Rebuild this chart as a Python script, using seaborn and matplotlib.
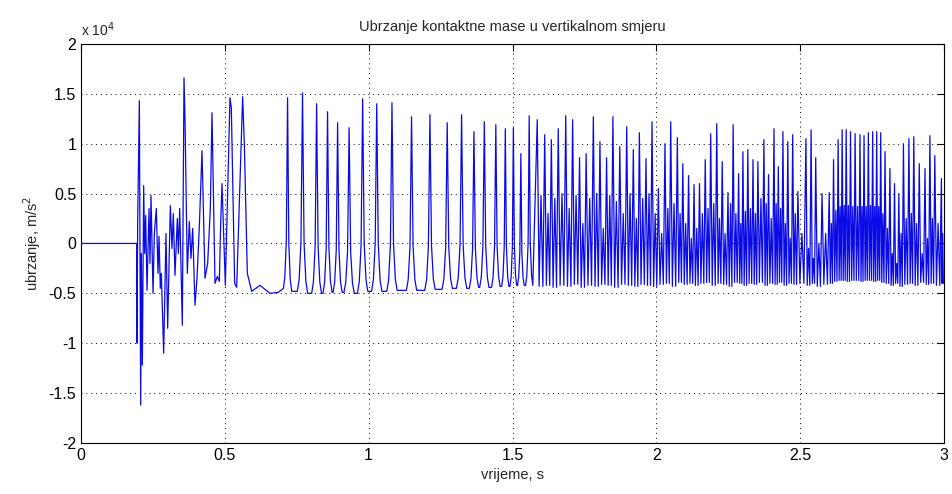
import matplotlib
matplotlib.use("Agg")
import matplotlib.pyplot as plt
import seaborn as sns
import numpy as np
import pandas as pd
from matplotlib.ticker import FuncFormatter

# values in units of 1e4 m/s^2, time in s

# start-up transient, read vertex by vertex
trans_t = [0.0, 0.050, 0.100, 0.150, 0.1936, 0.1946, 0.1970, 0.2028, 0.2051, 0.2074,
           0.2097, 0.2132, 0.2178, 0.2213, 0.2248, 0.2294, 0.2364, 0.2398, 0.2433, 0.2503,
           0.2549, 0.2618, 0.2676, 0.2711, 0.2757, 0.2792, 0.2873, 0.2954, 0.3012, 0.3105,
           0.3163, 0.3209, 0.3267, 0.3348, 0.3383, 0.3430, 0.3522, 0.3580, 0.3615, 0.3696,
           0.3765, 0.3823, 0.3882, 0.3962, 0.4032, 0.4113, 0.4206, 0.4310, 0.4403, 0.4495,
           0.4553, 0.4658, 0.4739, 0.4808, 0.4855, 0.4901, 0.5017, 0.5179, 0.5225, 0.5341,
           0.5411, 0.5619, 0.5677, 0.5782, 0.5932, 0.6222, 0.6569, 0.6859]
trans_v = [0.0, 0.0, 0.0, 0.0, 0.0, -1.0, 0.22, 1.43, -0.1, -1.62,
           -0.1, -1.22, 0.58, -0.1, 0.28, -0.47, 0.35, -0.2, 0.48, -0.5,
           0.1, 0.35, -0.3, 0.07, -0.45, -0.3, -1.1, 0.1, -0.85, 0.38,
           -0.05, 0.3, -0.32, 0.25, -0.1, 0.35, -0.82, 1.66, 1.25, -0.3,
           0.22, -0.15, 0.15, -0.62, -0.35, 0.17, 0.93, -0.35, -0.2, 0.35,
           1.31, -0.4, -0.33, -0.38, 0.2, 0.6, -0.42, 1.46, 1.36, -0.4,
           -0.44, 1.47, 1.0, -0.3, -0.48, -0.42, -0.50, -0.49]

# regular contact loss section: single spikes
b_peak_t = [0.718, 0.770, 0.819, 0.857, 0.892, 0.932, 0.979, 1.028, 1.081, 1.149,
            1.213, 1.273, 1.323, 1.366, 1.402, 1.442, 1.475, 1.503, 1.529, 1.558]
b_peak_v = [1.46, 1.51, 1.40, 1.32, 1.21, 1.16, 1.45, 1.40, 1.41, 1.27,
            1.29, 1.21, 1.29, 1.12, 1.22, 1.19, 1.15, 1.16, 0.90, 1.28]
b_trough = [-0.45, -0.48, -0.50, -0.50, -0.49, -0.49, -0.50, -0.48, -0.48, -0.47, -0.47,
            -0.46, -0.45, -0.45, -0.44, -0.44, -0.43, -0.43, -0.42, -0.42, -0.42]

# dense section: big spike followed by a smaller one
c_peak_t = [1.586, 1.612, 1.635, 1.659, 1.685, 1.709, 1.733, 1.756, 1.781, 1.804,
            1.827, 1.849, 1.873, 1.897, 1.920, 1.941, 1.964, 1.985, 2.007, 2.030,
            2.050, 2.073, 2.092, 2.112, 2.131, 2.150, 2.170, 2.189, 2.210, 2.229,
            2.249, 2.267, 2.286, 2.301, 2.318, 2.336, 2.353, 2.374, 2.390, 2.409,
            2.424, 2.440, 2.457, 2.474, 2.492, 2.520, 2.538, 2.554, 2.576, 2.601,
            2.616, 2.632, 2.646, 2.660, 2.675, 2.691, 2.708, 2.722, 2.737, 2.752,
            2.766, 2.780, 2.795, 2.812, 2.828, 2.843, 2.859, 2.878, 2.895, 2.914,
            2.934, 2.951, 2.968, 2.991]
c_peak_v = [1.24, 1.09, 1.04, 1.15, 1.28, 1.24, 0.86, 0.90, 1.27, 1.02,
            0.86, 1.27, 0.97, 1.17, 0.94, 1.11, 0.85, 1.22, 0.55, 1.00,
            1.22, 1.06, 0.80, 0.68, 0.59, 0.60, 0.84, 1.10, 1.20, 0.82,
            0.51, 1.19, 0.70, 0.92, 0.94, 0.84, 0.82, 1.04, 0.69, 1.15,
            0.77, 1.12, 1.02, 1.09, 0.52, 1.05, 1.14, 0.86, 0.50, 0.51,
            0.84, 1.04, 1.14, 1.14, 1.12, 1.10, 1.09, 1.08, 1.11, 1.12,
            1.12, 1.11, 0.92, 0.75, 0.60, 0.50, 1.00, 1.05, 1.07, 0.80,
            0.75, 1.08, 0.88, 0.65]
c_mid_v = [0.48, 0.30, 0.45, 0.50, 0.35, 0.48, 0.20, 0.45, 0.50, 0.15,
           0.48, 0.42, 0.30, 0.50, 0.25, 0.45, 0.50, 0.30, 0.10, 0.35,
           0.40, 0.30, 0.20, 0.05, 0.15, 0.30, 0.35, 0.40, 0.25, 0.10,
           0.40, 0.30, 0.20, 0.32, 0.35, 0.30, 0.45, 0.40, 0.25, 0.40,
           0.35, 0.20, 0.05, 0.30, 0.10, -0.05, -0.15, 0.00, 0.10, 0.20,
           0.33, 0.37, 0.38, 0.38, 0.37, 0.37, 0.37, 0.37, 0.38, 0.37,
           0.37, 0.30, 0.15, -0.10, -0.20, 0.10, 0.25, 0.30, 0.20, -0.10,
           0.05, 0.25, 0.20, 0.10]
c_trough = [-0.43, -0.42, -0.44, -0.42, -0.43, -0.41, -0.44, -0.42, -0.43, -0.41,
            -0.42, -0.44, -0.41, -0.42, -0.43, -0.41, -0.42, -0.43, -0.41, -0.40,
            -0.43, -0.39, -0.41, -0.40, -0.42, -0.40, -0.39, -0.42, -0.40, -0.41,
            -0.43, -0.39, -0.40, -0.42, -0.40, -0.41, -0.39, -0.42, -0.40, -0.41,
            -0.39, -0.42, -0.40, -0.41, -0.40, -0.42, -0.40, -0.43, -0.41, -0.40,
            -0.38, -0.37, -0.37, -0.38, -0.37, -0.37, -0.38, -0.37, -0.37, -0.38,
            -0.37, -0.39, -0.40, -0.42, -0.40, -0.43, -0.41, -0.40, -0.42, -0.39,
            -0.41, -0.40, -0.42, -0.40]

x_ticks = [0, 0.5, 1, 1.5, 2, 2.5, 3]
y_ticks = [-2, -1.5, -1, -0.5, 0, 0.5, 1, 1.5, 2]

# spike outline in section B: (fraction of half width, fraction of height above trough)
spike_shape = [(1.0, 0.0), (0.65, 0.06), (0.3, 0.25), (0.0, 1.0)]


def build_series():
    t = list(trans_t)
    v = list(trans_v)
    n = len(b_peak_t)
    for i, tp in enumerate(b_peak_t):
        left = tp - (b_peak_t[i - 1] if i else trans_t[-1])
        right = (b_peak_t[i + 1] if i + 1 < n else c_peak_t[0]) - tp
        w = min(0.018, 0.45 * left, 0.45 * right)
        lo_l, lo_r, pk = b_trough[i], b_trough[i + 1], b_peak_v[i]
        for fw, fh in spike_shape:
            t.append(tp - fw * w)
            v.append(lo_l + fh * (pk - lo_l))
        for fw, fh in spike_shape[-2::-1]:
            t.append(tp + fw * w)
            v.append(lo_r + fh * (pk - lo_r))
    m = len(c_peak_t)
    for i, tp in enumerate(c_peak_t):
        d = (c_peak_t[i + 1] if i + 1 < m else 3.0) - tp
        t += [tp, tp + 0.25 * d, tp + 0.5 * d, tp + 0.75 * d]
        v += [c_peak_v[i], c_trough[i], c_mid_v[i], c_trough[i]]
    return pd.DataFrame({"t": t, "a": np.array(v) * 1e4})


df = build_series()

sns.set_style("white")
plt.rcParams["font.family"] = ["Liberation Sans", "DejaVu Sans"]

fig = plt.figure(figsize=(9.52, 4.94), dpi=100)
ax = fig.add_axes([0.0851, 0.1032, 0.9065, 0.808])

sns.lineplot(data=df, x="t", y="a", sort=False, estimator=None,
             color="#0a0ae6", linewidth=0.9, ax=ax)

ax.set_xlim(0, 3)
ax.set_ylim(-2e4, 2e4)
ax.set_xticks(x_ticks)
ax.set_yticks([y * 1e4 for y in y_ticks])
ax.xaxis.set_major_formatter(FuncFormatter(lambda x, p: f"{x:g}"))
ax.yaxis.set_major_formatter(FuncFormatter(lambda y, p: f"{y / 1e4:g}"))
ax.tick_params(direction="in", top=True, right=True, length=5, width=0.8,
               labelsize=11.5, colors="black")
for s in ax.spines.values():
    s.set_color("black")
    s.set_linewidth(0.8)
ax.grid(True, color="black", linestyle=(0, (1, 4)), linewidth=0.7)

ax.set_title("Ubrzanje kontaktne mase u vertikalnom smjeru", fontsize=10.5, pad=9)
ax.set_xlabel("vrijeme, s", fontsize=10.5)
ax.set_ylabel("ubrzanje, m/s$^2$", fontsize=10.5)
ax.text(0.0, 1.012, "x 10$^4$", transform=ax.transAxes, ha="left", va="bottom",
        fontsize=10)

fig.savefig("out.png", dpi=100, facecolor="white")
